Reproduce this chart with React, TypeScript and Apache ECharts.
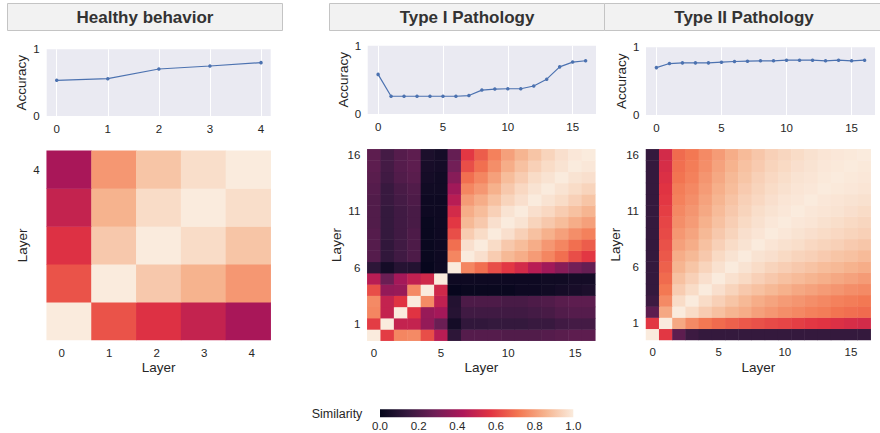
import React, { useEffect, useRef } from 'react';
import * as echarts from 'echarts';

const FONT = '"Liberation Sans", Arial, Helvetica, sans-serif';
const TEXT = '#262626';

const panelTitles = ['Healthy behavior', 'Type I Pathology', 'Type II Pathology'];

const healthyLayers = ['0', '1', '2', '3', '4'];
const deepLayers = ['0', '1', '2', '3', '4', '5', '6', '7', '8', '9', '10', '11', '12', '13', '14', '15', '16'];

const healthyAccuracy = [0.535, 0.56, 0.705, 0.75, 0.8];
const type1Accuracy = [0.58, 0.26, 0.26, 0.26, 0.26, 0.26, 0.26, 0.27, 0.35, 0.365, 0.37, 0.37, 0.41, 0.51, 0.69, 0.76, 0.78];
const type2Accuracy = [0.7, 0.76, 0.77, 0.77, 0.77, 0.78, 0.79, 0.795, 0.8, 0.8, 0.81, 0.81, 0.81, 0.8, 0.81, 0.8, 0.81];

// rows: layer on y axis (0 = bottom), columns: layer on x axis
const healthySimilarity = [
  [1.0, 0.64, 0.56, 0.49, 0.42],
  [0.64, 1.0, 0.91, 0.855, 0.79],
  [0.56, 0.91, 1.0, 0.96, 0.9],
  [0.49, 0.855, 0.96, 1.0, 0.965],
  [0.42, 0.79, 0.9, 0.965, 1.0],
];

const type1Similarity = [
  [1.0, 0.59, 0.75, 0.76, 0.63, 0.46, 0.12, 0.22, 0.22, 0.22, 0.21, 0.21, 0.21, 0.22, 0.23, 0.24, 0.24],
  [0.59, 1.0, 0.49, 0.49, 0.37, 0.27, 0.05, 0.13, 0.13, 0.14, 0.14, 0.14, 0.15, 0.15, 0.17, 0.18, 0.18],
  [0.75, 0.49, 1.0, 0.57, 0.38, 0.41, 0.1, 0.17, 0.17, 0.17, 0.17, 0.17, 0.18, 0.19, 0.21, 0.22, 0.22],
  [0.76, 0.49, 0.57, 1.0, 0.76, 0.48, 0.09, 0.2, 0.2, 0.2, 0.19, 0.19, 0.2, 0.21, 0.23, 0.24, 0.24],
  [0.63, 0.37, 0.38, 0.76, 1.0, 0.52, 0.01, 0.02, 0.02, 0.02, 0.02, 0.03, 0.03, 0.04, 0.05, 0.06, 0.07],
  [0.46, 0.27, 0.41, 0.48, 0.52, 1.0, 0.03, 0.03, 0.03, 0.03, 0.03, 0.03, 0.03, 0.04, 0.04, 0.05, 0.05],
  [0.12, 0.05, 0.1, 0.09, 0.01, 0.03, 1.0, 0.75, 0.7, 0.63, 0.58, 0.53, 0.46, 0.4, 0.34, 0.29, 0.26],
  [0.22, 0.13, 0.17, 0.2, 0.02, 0.03, 0.75, 1.0, 0.97, 0.92, 0.87, 0.84, 0.8, 0.75, 0.7, 0.63, 0.58],
  [0.22, 0.13, 0.17, 0.2, 0.02, 0.03, 0.7, 0.97, 1.0, 0.96, 0.91, 0.88, 0.84, 0.79, 0.75, 0.7, 0.66],
  [0.22, 0.14, 0.17, 0.2, 0.02, 0.03, 0.63, 0.92, 0.96, 1.0, 0.97, 0.93, 0.89, 0.85, 0.81, 0.77, 0.74],
  [0.21, 0.14, 0.17, 0.19, 0.02, 0.03, 0.58, 0.87, 0.91, 0.97, 1.0, 0.98, 0.94, 0.91, 0.88, 0.84, 0.81],
  [0.21, 0.14, 0.17, 0.19, 0.03, 0.03, 0.53, 0.84, 0.88, 0.93, 0.98, 1.0, 0.97, 0.95, 0.92, 0.89, 0.86],
  [0.21, 0.15, 0.18, 0.2, 0.03, 0.03, 0.46, 0.8, 0.84, 0.89, 0.94, 0.97, 1.0, 0.98, 0.96, 0.93, 0.9],
  [0.22, 0.15, 0.19, 0.21, 0.04, 0.04, 0.4, 0.75, 0.79, 0.85, 0.91, 0.95, 0.98, 1.0, 0.98, 0.96, 0.94],
  [0.23, 0.17, 0.21, 0.23, 0.05, 0.04, 0.34, 0.7, 0.75, 0.81, 0.88, 0.92, 0.96, 0.98, 1.0, 0.98, 0.97],
  [0.24, 0.18, 0.22, 0.24, 0.06, 0.05, 0.29, 0.63, 0.7, 0.77, 0.84, 0.89, 0.93, 0.96, 0.98, 1.0, 0.99],
  [0.24, 0.18, 0.22, 0.24, 0.07, 0.05, 0.26, 0.58, 0.66, 0.74, 0.81, 0.86, 0.9, 0.94, 0.97, 0.99, 1.0],
];

const type2Similarity = [
  [1.0, 0.58, 0.24, 0.16, 0.14, 0.14, 0.14, 0.14, 0.14, 0.14, 0.14, 0.14, 0.14, 0.14, 0.14, 0.14, 0.14],
  [0.58, 1.0, 0.83, 0.76, 0.72, 0.69, 0.67, 0.65, 0.635, 0.62, 0.61, 0.595, 0.58, 0.57, 0.555, 0.54, 0.53],
  [0.24, 0.83, 1.0, 0.96, 0.92, 0.89, 0.86, 0.84, 0.81, 0.79, 0.77, 0.755, 0.74, 0.73, 0.71, 0.7, 0.69],
  [0.16, 0.76, 0.96, 1.0, 0.96, 0.93, 0.9, 0.87, 0.84, 0.82, 0.8, 0.785, 0.77, 0.755, 0.74, 0.73, 0.72],
  [0.14, 0.72, 0.92, 0.96, 1.0, 0.97, 0.94, 0.91, 0.89, 0.87, 0.85, 0.83, 0.815, 0.8, 0.785, 0.77, 0.76],
  [0.14, 0.69, 0.89, 0.93, 0.97, 1.0, 0.975, 0.955, 0.93, 0.91, 0.89, 0.875, 0.86, 0.845, 0.83, 0.815, 0.8],
  [0.14, 0.67, 0.86, 0.9, 0.94, 0.975, 1.0, 0.98, 0.96, 0.94, 0.925, 0.91, 0.895, 0.88, 0.87, 0.855, 0.84],
  [0.14, 0.65, 0.84, 0.87, 0.91, 0.955, 0.98, 1.0, 0.98, 0.97, 0.955, 0.94, 0.93, 0.915, 0.9, 0.89, 0.875],
  [0.14, 0.635, 0.81, 0.84, 0.89, 0.93, 0.96, 0.98, 1.0, 0.985, 0.975, 0.965, 0.95, 0.94, 0.93, 0.915, 0.905],
  [0.14, 0.62, 0.79, 0.82, 0.87, 0.91, 0.94, 0.97, 0.985, 1.0, 0.99, 0.98, 0.97, 0.96, 0.95, 0.94, 0.93],
  [0.14, 0.61, 0.77, 0.8, 0.85, 0.89, 0.925, 0.955, 0.975, 0.99, 1.0, 0.99, 0.985, 0.975, 0.965, 0.955, 0.945],
  [0.14, 0.595, 0.755, 0.785, 0.83, 0.875, 0.91, 0.94, 0.965, 0.98, 0.99, 1.0, 0.99, 0.985, 0.98, 0.97, 0.96],
  [0.14, 0.58, 0.74, 0.77, 0.815, 0.86, 0.895, 0.93, 0.95, 0.97, 0.985, 0.99, 1.0, 0.99, 0.985, 0.98, 0.975],
  [0.14, 0.57, 0.73, 0.755, 0.8, 0.845, 0.88, 0.915, 0.94, 0.96, 0.975, 0.985, 0.99, 1.0, 0.995, 0.99, 0.985],
  [0.14, 0.555, 0.71, 0.74, 0.785, 0.83, 0.87, 0.9, 0.93, 0.95, 0.965, 0.98, 0.985, 0.995, 1.0, 0.995, 0.99],
  [0.14, 0.54, 0.7, 0.73, 0.77, 0.815, 0.855, 0.89, 0.915, 0.94, 0.955, 0.97, 0.98, 0.99, 0.995, 1.0, 0.995],
  [0.14, 0.53, 0.69, 0.72, 0.76, 0.8, 0.84, 0.875, 0.905, 0.93, 0.945, 0.96, 0.975, 0.985, 0.99, 0.995, 1.0],
];

// seaborn "rocket" colormap, evenly spaced stops
const rocket = ['#03051a', '#35193e', '#701f57', '#ad1759', '#e13342', '#f37651', '#f6b48f', '#faebdd'];
const colorbarTicks = [0, 0.2, 0.4, 0.6, 0.8, 1.0];

function toCells(m: number[][]) {
  const out: number[][] = [];
  m.forEach((row, y) => row.forEach((v, x) => out.push([x, y, v])));
  return out;
}

export default function App() {
  const ref = useRef<HTMLDivElement>(null);
  useEffect(() => {
    if (!ref.current) return;
    const chart = echarts.init(ref.current, null, { renderer: 'svg' });

    const lineGrids = [
      { left: 56.7, top: 49.3, width: 204.3, height: 66.7, bg: [46.7, 224] },
      { left: 378.1, top: 45.7, width: 207.5, height: 68.3, bg: [367.7, 228.3] },
      { left: 656.4, top: 47.3, width: 208.2, height: 67.7, bg: [646, 229] },
    ];
    const heatGrids = [
      { left: 46.7, top: 150.7, width: 224, height: 189.3 },
      { left: 367.3, top: 149.3, width: 228, height: 191.4 },
      { left: 646, top: 149.3, width: 224.7, height: 190.7 },
    ];
    const titleBoxes = [
      [7.5, 275],
      [329.5, 275],
      [604.5, 280],
    ];

    const grids: any[] = [];
    const xAxes: any[] = [];
    const yAxes: any[] = [];
    const series: any[] = [];

    const accs = [healthyAccuracy, type1Accuracy, type2Accuracy];
    const lineMax = [4, 16, 16];
    const lineInterval = [1, 5, 5];
    lineGrids.forEach((g, i) => {
      grids.push({ left: g.left, top: g.top, width: g.width, height: g.height, containLabel: false });
      xAxes.push({
        type: 'value',
        gridIndex: i,
        min: 0,
        max: lineMax[i],
        interval: lineInterval[i],
        axisLine: { show: false },
        axisTick: { show: false },
        axisLabel: { color: TEXT, fontSize: 11.5, margin: 7, fontFamily: FONT, showMaxLabel: i === 0 },
        splitLine: { show: true, showMaxLine: i === 0, lineStyle: { color: '#ffffff', width: 1 } },
      });
      yAxes.push({
        type: 'value',
        gridIndex: i,
        min: 0,
        max: 1,
        interval: 1,
        axisLine: { show: false },
        axisTick: { show: false },
        axisLabel: { color: TEXT, fontSize: 11.5, margin: 17, fontFamily: FONT },
        splitLine: { show: false },
        name: 'Accuracy',
        nameLocation: 'middle',
        nameGap: 28,
        nameTextStyle: { color: TEXT, fontSize: 13.5, fontFamily: FONT },
      });
      series.push({
        type: 'line',
        xAxisIndex: i,
        yAxisIndex: i,
        data: accs[i].map((v, k) => [k, v]),
        symbol: 'circle',
        symbolSize: 3.5,
        showSymbol: true,
        lineStyle: { color: '#4c72b0', width: 1.2 },
        itemStyle: { color: '#4c72b0' },
        silent: true,
      });
    });

    const mats = [healthySimilarity, type1Similarity, type2Similarity];
    const cats = [healthyLayers, deepLayers, deepLayers];
    const yNameGap = [15, 21, 21];
    heatGrids.forEach((g, i) => {
      const gi = i + 3;
      grids.push({ left: g.left, top: g.top, width: g.width, height: g.height, containLabel: false });
      xAxes.push({
        type: 'category',
        gridIndex: gi,
        data: cats[i],
        axisLine: { show: false },
        axisTick: { show: false },
        splitLine: { show: false },
        axisLabel: {
          show: i !== 0,
          color: TEXT,
          fontSize: 11.5,
          margin: 6,
          fontFamily: FONT,
          interval: (idx: number) => idx % 5 === 0,
        },
        name: 'Layer',
        nameLocation: 'middle',
        nameGap: 20,
        nameTextStyle: { color: TEXT, fontSize: 13.5, fontFamily: FONT },
      });
      yAxes.push({
        type: 'category',
        gridIndex: gi,
        data: cats[i],
        axisLine: { show: false },
        axisTick: { show: false },
        splitLine: { show: false },
        axisLabel: {
          color: TEXT,
          fontSize: 11.5,
          margin: 7,
          fontFamily: FONT,
          interval: i === 0 ? (idx: number) => idx === 4 : (idx: number) => idx % 5 === 1,
        },
        name: 'Layer',
        nameLocation: 'middle',
        nameGap: yNameGap[i],
        nameTextStyle: { color: TEXT, fontSize: 13.5, fontFamily: FONT },
      });
      series.push({
        type: 'heatmap',
        xAxisIndex: gi,
        yAxisIndex: gi,
        data: toCells(mats[i]),
        silent: true,
        itemStyle: { borderWidth: 0 },
        emphasis: { disabled: true },
        progressive: 0,
      });
    });

    // colorbar (grid 6)
    grids.push({
      left: 380,
      top: 409.3,
      width: 193.3,
      height: 8,
      show: true,
      borderWidth: 0,
      backgroundColor: {
        type: 'linear',
        x: 0,
        y: 0,
        x2: 1,
        y2: 0,
        colorStops: rocket.map((c, k) => ({ offset: k / (rocket.length - 1), color: c })),
      },
    });
    xAxes.push({
      type: 'value',
      gridIndex: 6,
      min: colorbarTicks[0],
      max: colorbarTicks[colorbarTicks.length - 1],
      interval: colorbarTicks[1] - colorbarTicks[0],
      axisLine: { show: false },
      axisTick: { show: false },
      splitLine: { show: false },
      axisLabel: { color: TEXT, fontSize: 11.5, margin: 3, fontFamily: FONT, formatter: (v: number) => v.toFixed(1) },
    });
    yAxes.push({ type: 'value', gridIndex: 6, min: 0, max: 1, show: false });

    // tick labels under the healthy heatmap (grid 7), placed as in the reference
    grids.push({ left: 61.7, top: 339, width: 190, height: 1, containLabel: false });
    xAxes.push({
      type: 'value',
      gridIndex: 7,
      min: 0,
      max: healthyLayers.length - 1,
      interval: 1,
      axisLine: { show: false },
      axisTick: { show: false },
      splitLine: { show: false },
      axisLabel: { color: TEXT, fontSize: 11.5, margin: 7, fontFamily: FONT },
    });
    yAxes.push({ type: 'value', gridIndex: 7, min: 0, max: 1, show: false });

    const graphics: any[] = [];
    titleBoxes.forEach(([x, w], i) => {
      graphics.push({
        type: 'rect',
        shape: { x, y: 3.5, width: w, height: 27 },
        style: { fill: '#f2f2f2', stroke: '#c4c4c4', lineWidth: 1 },
        silent: true,
        z: -2,
      });
      graphics.push({
        type: 'text',
        x: [145, 467, 744][i],
        y: 17,
        style: {
          text: panelTitles[i],
          fill: '#333333',
          font: `bold 17px ${FONT}`,
          textAlign: 'center',
          textVerticalAlign: 'middle',
        },
        silent: true,
      });
    });
    lineGrids.forEach((g) => {
      graphics.push({
        type: 'rect',
        shape: { x: g.bg[0], y: g.top, width: g.bg[1], height: g.height },
        style: { fill: '#eaeaf2' },
        silent: true,
        z: -1,
      });
    });
    graphics.push({
      type: 'text',
      x: 337,
      y: 413.5,
      style: {
        text: 'Similarity',
        fill: TEXT,
        font: `12.5px ${FONT}`,
        textAlign: 'center',
        textVerticalAlign: 'middle',
      },
      silent: true,
    });

    chart.setOption({
      animation: false,
      backgroundColor: '#ffffff',
      textStyle: { fontFamily: FONT },
      grid: grids,
      xAxis: xAxes,
      yAxis: yAxes,
      visualMap: {
        type: 'continuous',
        show: false,
        min: 0,
        max: 1,
        dimension: 2,
        seriesIndex: [3, 4, 5],
        inRange: { color: rocket },
      },
      graphic: { elements: graphics },
      series,
    });
    return () => chart.dispose();
  }, []);
  return <div ref={ref} style={{ position: 'fixed', left: 0, top: 0, width: 880, height: 433 }} />;
}
